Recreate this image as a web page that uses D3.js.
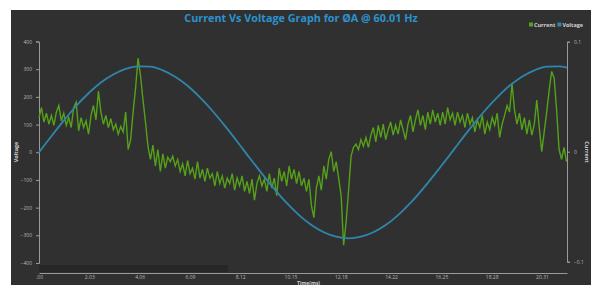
<!DOCTYPE html>
<html>
<head>
<meta charset="utf-8">
<script src="https://cdnjs.cloudflare.com/ajax/libs/d3/7.8.5/d3.min.js"></script>
<style>
  body { margin: 0; background: #fff; }
  svg { display: block; }
  .axis path, .axis line { stroke: #9a9a9a; }
  .axis text { fill: #b8b8b8; font-family: "Open Sans", sans-serif; font-size: 5px; }
</style>
</head>
<body>
<div id="chart"></div>
<script>
// data
var sampleStep = 0.1; // ms between current samples
var current = [
  0.031, 0.040, 0.027, 0.035, 0.025, 0.033, 0.024, 0.036, 0.042, 0.028,
  0.035, 0.024, 0.031, 0.022, 0.040, 0.045, 0.019, 0.031, 0.022, 0.028,
  0.016, 0.033, 0.042, 0.029, 0.055, 0.036, 0.025, 0.033, 0.022, 0.030,
  0.020, 0.025, 0.016, 0.023, 0.018, 0.036, 0.002, 0.011, 0.036, 0.058,
  0.085, 0.069, 0.047, 0.027, 0.005, -0.007, 0.006, -0.013, 0.002, -0.018,
  -0.002, -0.015, -0.005, -0.009, -0.004, -0.013, -0.007, -0.018, -0.011, -0.022,
  -0.008, -0.020, -0.015, -0.025, -0.009, -0.024, -0.016, -0.027, -0.015, -0.024,
  -0.020, -0.031, -0.018, -0.029, -0.022, -0.033, -0.024, -0.029, -0.020, -0.035,
  -0.024, -0.031, -0.022, -0.036, -0.027, -0.038, -0.025, -0.044, -0.029, -0.022,
  -0.031, -0.025, -0.036, -0.020, -0.033, -0.024, -0.040, -0.015, -0.027, -0.018,
  -0.031, -0.013, -0.025, -0.016, -0.029, -0.018, -0.031, -0.024, -0.036, -0.025,
  -0.049, -0.060, -0.033, -0.022, -0.035, -0.013, -0.025, -0.007, 0.000, -0.018,
  -0.009, -0.024, -0.040, -0.085, -0.064, -0.035, -0.004, 0.004, 0.007, 0.002,
  0.011, 0.005, 0.013, 0.004, 0.015, 0.022, 0.009, 0.024, 0.013, 0.025,
  0.011, 0.020, 0.027, 0.015, 0.024, 0.016, 0.029, 0.020, 0.011, 0.025,
  0.033, 0.018, 0.029, 0.038, 0.024, 0.033, 0.020, 0.036, 0.025, 0.038,
  0.027, 0.035, 0.024, 0.036, 0.025, 0.040, 0.029, 0.035, 0.024, 0.036,
  0.027, 0.033, 0.022, 0.035, 0.025, 0.031, 0.018, 0.029, 0.022, 0.033,
  0.016, 0.027, 0.020, 0.031, 0.024, 0.035, 0.013, 0.025, 0.033, 0.042,
  0.036, 0.062, 0.038, 0.025, 0.035, 0.020, 0.031, 0.016, 0.029, 0.015,
  0.025, 0.047, 0.022, 0.000, 0.018, 0.036, 0.056, 0.073, 0.067, 0.038,
  0.002, -0.007, 0.004, -0.009
];
var voltageTime = [
  0, 0.5, 1, 1.5, 2, 2.5, 3, 3.5, 4, 4.5, 5, 5.5, 6, 6.5, 7, 7.5, 8, 8.5, 9, 9.5,
  10, 10.5, 11, 11.5, 12, 12.5, 13, 13.5, 14, 14.5, 15, 15.5, 16, 16.5, 17, 17.5,
  18, 18.5, 19, 19.5, 20, 20.5, 21, 21.32
];
var voltage = [
  0, 58, 114, 167, 213, 252, 281, 301, 310, 309, 296, 273, 240, 198, 150, 96, 39, -20, -77, -132,
  -183, -227, -263, -289, -305, -311, -305, -289, -263, -227, -183, -132, -77, -20, 39, 96,
  150, 198, 240, 273, 296, 309, 310, 306
];
var timeTicks = [0, 2.031, 4.062, 6.093, 8.124, 10.155, 12.186, 14.217, 16.248, 18.279, 20.31];
var timeLabels = [".00", "2.03", "4.06", "6.09", "8.12", "10.15", "12.18", "14.22", "16.25", "18.28", "20.31"];
var voltTicks = [-400, -300, -200, -100, 0, 100, 200, 300, 400];
var currTicks = [-0.1, 0, 0.1];
var seriesNames = ["Current", "Voltage"];
var seriesColors = ["#55a11a", "#2f86ab"];
var navWindow = [0, 7.63];

var W = 591, H = 285;
var margin = {top: 41.5, right: 24, bottom: 22, left: 39};

var x = d3.scaleLinear().domain([0, 21.32]).range([margin.left, W - margin.right]);
var yV = d3.scaleLinear().domain([-400, 400]).range([263, 41.5]);
var yC = d3.scaleLinear().domain([-0.1, 0.1]).range([261.7, 41.7]);

var svg = d3.select("#chart").append("svg")
    .attr("width", W)
    .attr("height", H);

// dark panel
svg.append("rect")
    .attr("x", 11).attr("y", 10)
    .attr("width", W - 11).attr("height", H - 10)
    .attr("fill", "#303030");

// navigator band
svg.append("rect")
    .attr("x", x(navWindow[0])).attr("y", 265)
    .attr("width", x(navWindow[1]) - x(navWindow[0])).attr("height", 7)
    .attr("fill", "#272727");

// title
svg.append("text")
    .attr("x", 301).attr("y", 22)
    .attr("text-anchor", "middle")
    .style("font-family", "'Open Sans', sans-serif")
    .style("font-weight", "bold")
    .style("font-size", "10.8px")
    .style("fill", "#2b93cf")
    .text("Current Vs Voltage Graph for ØA @ 60.01 Hz");

// legend
var legend = svg.append("g").attr("transform", "translate(529,25)");
var lx = 0;
seriesNames.forEach(function(name, i) {
    legend.append("rect").attr("x", lx).attr("y", -2.5).attr("width", 4).attr("height", 4)
        .attr("fill", seriesColors[i]);
    var t = legend.append("text").attr("x", lx + 5).attr("y", 1.5)
        .style("font-family", "'Open Sans', sans-serif")
        .style("font-weight", "bold")
        .style("font-size", "5.5px")
        .style("fill", "#d0d0d0")
        .text(name);
    lx += 5 + t.node().getComputedTextLength() + 2;
});

// axes
svg.append("g").attr("class", "axis")
    .attr("transform", "translate(" + margin.left + ",0)")
    .call(d3.axisLeft(yV).tickValues(voltTicks).tickSize(3).tickPadding(4).tickFormat(d3.format("d")));

svg.append("g").attr("class", "axis")
    .attr("transform", "translate(" + (W - margin.right) + ",0)")
    .call(d3.axisRight(yC).tickValues(currTicks).tickSize(3).tickPadding(4)
        .tickFormat(function(d) { return d === 0 ? "0" : d3.format(".1f")(d); }));

svg.append("g").attr("class", "axis")
    .attr("transform", "translate(0,273)")
    .call(d3.axisBottom(x).tickValues(timeTicks).tickSize(0).tickPadding(2.5)
        .tickFormat(function(d, i) { return timeLabels[i]; }));

// axis titles
svg.append("text")
    .attr("transform", "translate(18,152) rotate(-90)")
    .attr("text-anchor", "middle")
    .style("font-family", "'Open Sans', sans-serif").style("font-weight", "bold")
    .style("font-size", "5.5px").style("fill", "#cfcfcf")
    .text("Voltage");
svg.append("text")
    .attr("transform", "translate(585,152) rotate(90)")
    .attr("text-anchor", "middle")
    .style("font-family", "'Open Sans', sans-serif").style("font-weight", "bold")
    .style("font-size", "5.5px").style("fill", "#cfcfcf")
    .text("Current");
svg.append("text")
    .attr("x", 297).attr("y", 284.5)
    .style("font-family", "'Open Sans', sans-serif").style("font-weight", "bold")
    .style("font-size", "5px").style("fill", "#cfcfcf")
    .text("Time(ms)");

// lines
var voltLine = d3.line()
    .x(function(d, i) { return x(voltageTime[i]); })
    .y(function(d) { return yV(d); })
    .curve(d3.curveMonotoneX);
var currLine = d3.line()
    .x(function(d, i) { return x(i * sampleStep); })
    .y(function(d) { return yC(d); });

svg.append("path")
    .datum(current)
    .attr("fill", "none")
    .attr("stroke", seriesColors[0])
    .attr("stroke-width", 1.4)
    .attr("d", currLine);

svg.append("path")
    .datum(voltage)
    .attr("fill", "none")
    .attr("stroke", seriesColors[1])
    .attr("stroke-width", 1.8)
    .attr("d", voltLine);
</script>
</body>
</html>
